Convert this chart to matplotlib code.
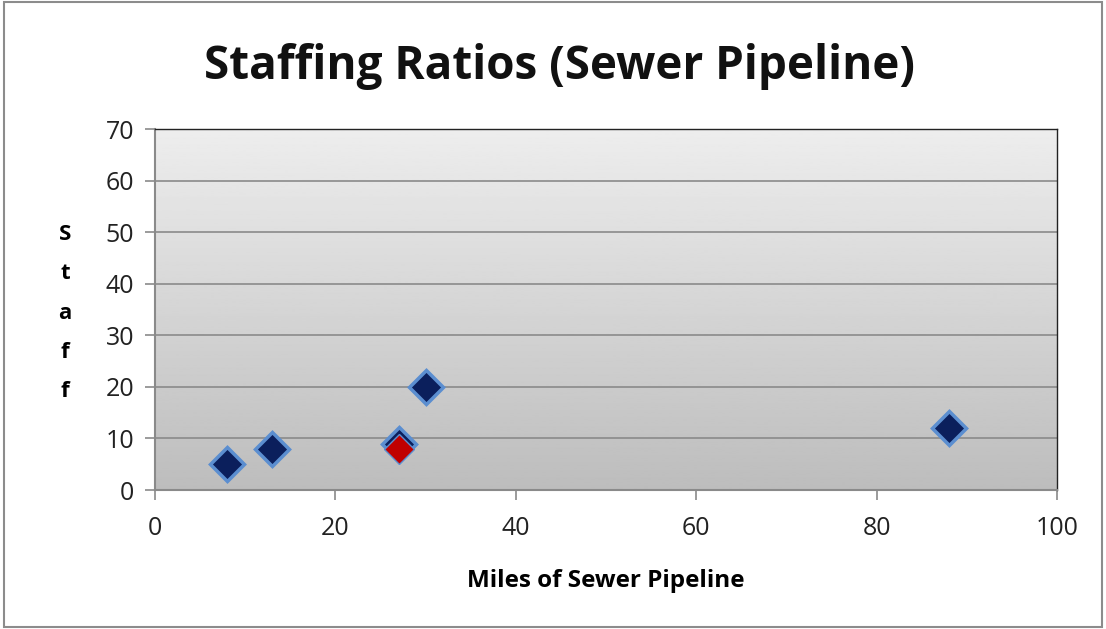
"""
Staffing ratios scatter (sewer pipeline miles vs staff).
"""

import matplotlib
import matplotlib.pyplot as plt
import numpy as np
from matplotlib.patches import Rectangle

matplotlib.use("Agg")

miles = [8, 13, 27, 30, 88]
staff = [5, 8, 9, 20, 12]
highlight_miles = [27]
highlight_staff = [8]

x_ticks = [0, 20, 40, 60, 80, 100]
y_ticks = [0, 10, 20, 30, 40, 50, 60, 70]

plt.rcParams["font.family"] = ["Open Sans", "DejaVu Sans"]

fig = plt.figure(figsize=(11.06, 6.29), dpi=100)
ax = fig.add_axes([155 / 1106, 1 - 490 / 629, (1057 - 155) / 1106, (490 - 129) / 629])

# grey vertical gradient background
grad = np.linspace(0.93, 0.74, 256).reshape(-1, 1)
ax.imshow(grad, cmap="gray", vmin=0, vmax=1, aspect="auto",
          extent=[0, 1, 0, 1], transform=ax.transAxes, zorder=0)

ax.set_xlim(0, 100)
ax.set_ylim(0, 70)
ax.set_xticks(x_ticks)
ax.set_yticks(y_ticks)
ax.yaxis.grid(True, color="#8a8a8a", linewidth=1.2)
ax.set_axisbelow(True)

for side in ("top", "right"):
    ax.spines[side].set_color("#222222")
    ax.spines[side].set_linewidth(1.0)
for side in ("left", "bottom"):
    ax.spines[side].set_color("#8a8a8a")
    ax.spines[side].set_linewidth(1.5)

ax.tick_params(axis="both", direction="out", length=7, width=1.2, color="#8a8a8a",
               labelsize=18, labelcolor="#222222")
ax.tick_params(axis="x", pad=12)
ax.tick_params(axis="y", pad=8)

ax.plot(miles, staff, "D", markersize=17, markerfacecolor="#0b1f5c",
        markeredgecolor="#5b8ed0", markeredgewidth=2.5, zorder=3)
ax.plot(highlight_miles, highlight_staff, "D", markersize=15, markerfacecolor="#c00000",
        markeredgecolor="#5b8ed0", markeredgewidth=1.0, zorder=4)

fig.text(560 / 1106, 1 - 66 / 629, "Staffing Ratios (Sewer Pipeline)", ha="center", va="center",
         fontsize=33, fontweight="bold", color="#111111")
ax.set_xlabel("Miles of Sewer Pipeline", fontsize=17.5, fontweight="bold", labelpad=20)
fig.text(65 / 1106, 1 - 313 / 629, "S\nt\na\nf\nf", ha="center", va="center",
         fontsize=16, fontweight="bold", linespacing=2.15)

fig.patches.append(Rectangle((4 / 1106, 2 / 629), 1 - 8 / 1106, 1 - 4 / 629,
                             transform=fig.transFigure, fill=False,
                             edgecolor="#8c8c8c", linewidth=1.5))

plt.savefig("out.png", dpi=100)
